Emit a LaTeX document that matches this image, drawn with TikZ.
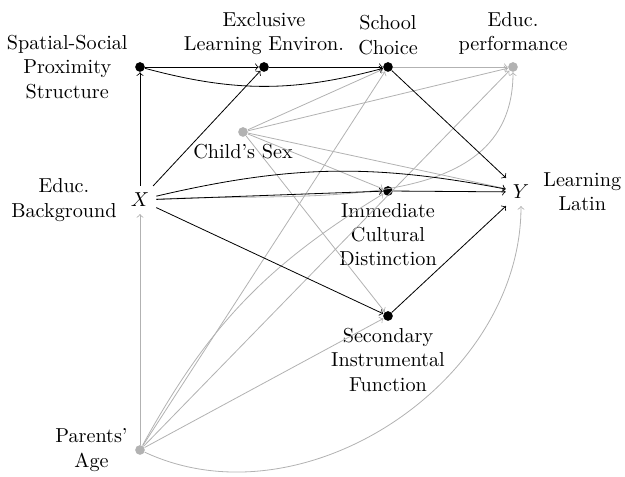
\documentclass[tikz,border=0pt]{standalone}
\begin{document}
\begin{tikzpicture}[x=0.495pt,y=0.495pt,
  dot/.style={circle,fill=black,inner sep=0pt,minimum size=4.8pt},
  gdot/.style={circle,fill=black!30,inner sep=0pt,minimum size=4.8pt},
  var/.style={inner sep=3.33pt},
  blk/.style={->,black},
  gry/.style={->,black!30},
  every label/.style={align=center}]
\useasboundingbox (0,0) rectangle (625,477);
\node[dot,label={left:Spatial-Social\\Proximity\\Structure}] (ssp) at (140,410) {};
\node[dot,label={above:Exclusive\\Learning Environ.}] (ele) at (264,410) {};
\node[dot,label={above:School\\Choice}] (sc) at (388,410) {};
\node[gdot,label={above:Educ.\\performance}] (ep) at (513,410) {};
\node[gdot,label={below:Child's Sex}] (cs) at (243,345) {};
\node[var,label={left:Educ.\\Background}] (x) at (140,277) {$X$};
\node[dot,label={below:Immediate\\Cultural\\Distinction}] (icd) at (388,286) {};
\node[var,label={right:Learning\\Latin}] (y) at (521,285) {$Y$};
\node[dot,label={below:Secondary\\Instrumental\\Function}] (sif) at (388,161) {};
\node[gdot,label={left:Parents'\\Age}] (pa) at (140,27) {};
% gray edges
\draw[gry] (sc) -- (ep);
\draw[gry] (cs) -- (sc);
\draw[gry] (cs) -- (ep);
\draw[gry] (cs) -- (y);
\draw[gry] (cs) -- (icd);
\draw[gry] (cs) -- (sif);
\draw[gry] (x) to[out=3,in=-90] (ep);
\draw[gry] (pa) -- (x);
\draw[gry] (pa) -- (sc);
\draw[gry] (pa) to[bend left=15] (icd);
\draw[gry] (pa) -- (ep);
\draw[gry] (pa) -- (sif);
\draw[gry] (pa) to[out=-25,in=-90] (y);
% black edges
\draw[blk] (x) -- (ssp);
\draw[blk] (x) -- (ele);
\draw[blk] (ssp) -- (ele);
\draw[blk] (ssp) to[bend right=15] (sc);
\draw[blk] (ele) -- (sc);
\draw[blk] (sc) -- (y);
\draw[blk] (x) to[bend left=12] (y);
\draw[blk] (x) -- (icd);
\draw[blk] (icd) -- (y);
\draw[blk] (x) -- (sif);
\draw[blk] (sif) -- (y);
\end{tikzpicture}
\end{document}
